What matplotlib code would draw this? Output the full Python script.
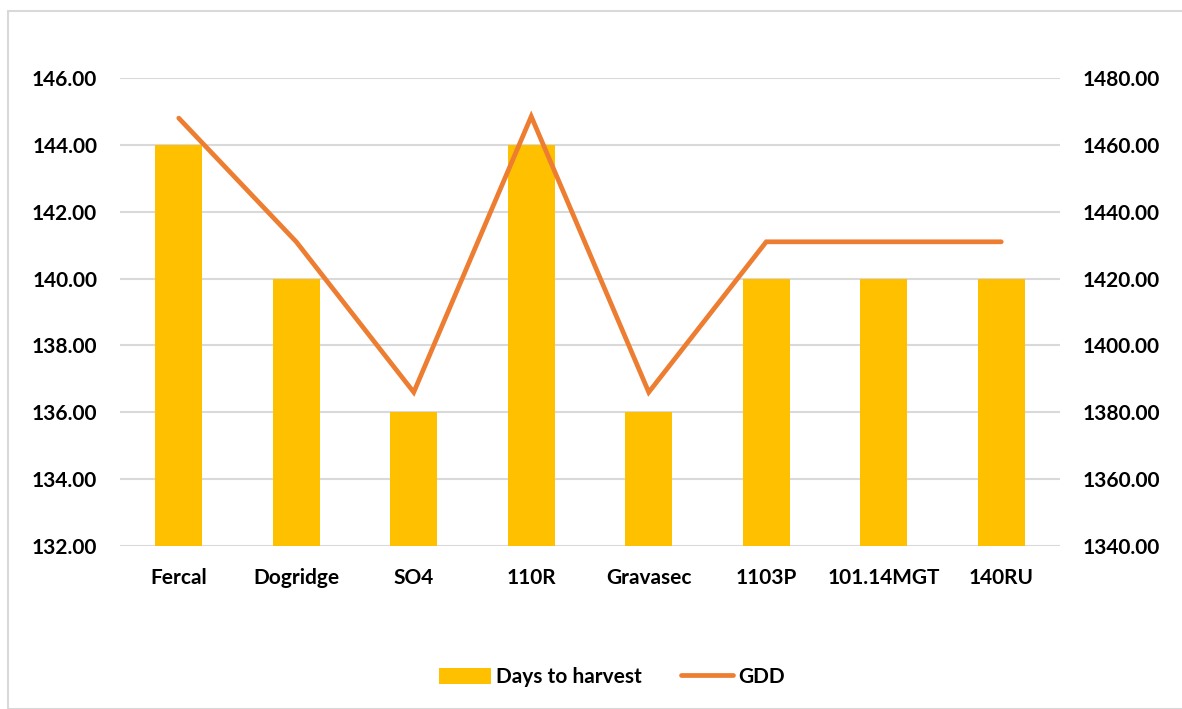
import os
import numpy as np
import matplotlib.pyplot as plt
from matplotlib import font_manager
from matplotlib.patches import Rectangle

rootstocks = ['Fercal', 'Dogridge', 'SO4', '110R', 'Gravasec', '1103P', '101.14MGT', '140RU']
days_to_harvest = [144, 140, 136, 144, 136, 140, 140, 140]
gdd = [1468, 1431, 1386, 1468.5, 1386, 1431, 1431, 1431]

BAR_COLOR = '#FFC000'
LINE_COLOR = '#ED7D31'
GRID_COLOR = '#D9D9D9'


def pick_bold_family():
    # want a real static bold face (variable fonts render at regular weight)
    for fam in ['Lato', 'Liberation Sans', 'Roboto', 'Noto Sans']:
        try:
            path = font_manager.findfont(font_manager.FontProperties(family=fam, weight='bold'),
                                         fallback_to_default=False)
        except ValueError:
            continue
        name = os.path.basename(path).lower()
        if 'bold' in name or name.endswith('bd.ttf'):
            return fam
    return 'DejaVu Sans'


FAMILY = pick_bold_family()
plt.rcParams['font.family'] = [FAMILY, 'DejaVu Sans']
plt.rcParams['font.weight'] = 'bold'
FS = 15


def main():
    fig = plt.figure(figsize=(11.82, 7.09), dpi=100)
    ax = fig.add_axes([120 / 1182, 1 - 546 / 709, 940 / 1182, 468 / 709])
    x = np.arange(len(rootstocks))

    ax.bar(x, days_to_harvest, width=0.4, color=BAR_COLOR, label='Days to harvest', zorder=2)
    ax.set_ylim(132, 146)
    ax.set_yticks(np.arange(132, 147, 2))
    ax.set_yticklabels([f'{v:.2f}' for v in np.arange(132, 147, 2)], fontweight='bold', fontsize=FS)
    ax.set_xlim(-0.5, len(rootstocks) - 0.5)
    ax.set_xticks(x)
    ax.set_xticklabels(rootstocks, fontweight='bold', fontsize=FS)
    ax.grid(axis='y', color=GRID_COLOR, linewidth=1.5, zorder=0)
    ax.set_axisbelow(True)
    ax.tick_params(axis='y', length=0, pad=16.5, labelcolor='black')
    ax.tick_params(axis='x', length=0, pad=16, labelcolor='black')
    for s in ax.spines.values():
        s.set_visible(False)

    ax2 = ax.twinx()
    ax2.plot(x, gdd, color=LINE_COLOR, linewidth=3.4, solid_capstyle='round',
             solid_joinstyle='miter', label='GDD', zorder=3)
    ax2.set_ylim(1340, 1480)
    ax2.set_yticks(np.arange(1340, 1481, 20))
    ax2.set_yticklabels([f'{v:.2f}' for v in np.arange(1340, 1481, 20)], fontweight='bold', fontsize=FS)
    ax2.tick_params(axis='y', length=0, pad=16.5, labelcolor='black')
    for s in ax2.spines.values():
        s.set_visible(False)

    h1, l1 = ax.get_legend_handles_labels()
    h2, l2 = ax2.get_legend_handles_labels()
    fig.legend(h1 + h2, l1 + l2, loc='center', bbox_to_anchor=(612 / 1182, 1 - 677 / 709),
               ncol=2, frameon=False, prop={'weight': 'bold', 'size': FS},
               handlelength=2.5, handleheight=0.8, columnspacing=1.9, handletextpad=0.22)

    # light chart-area border
    fig.patches.append(Rectangle((8 / 1182, 0), 1.0, 1 - 11 / 709, transform=fig.transFigure,
                                 fill=False, edgecolor='#D9D9D9', linewidth=1.5))

    fig.savefig('out.png', dpi=100)


if __name__ == '__main__':
    main()
